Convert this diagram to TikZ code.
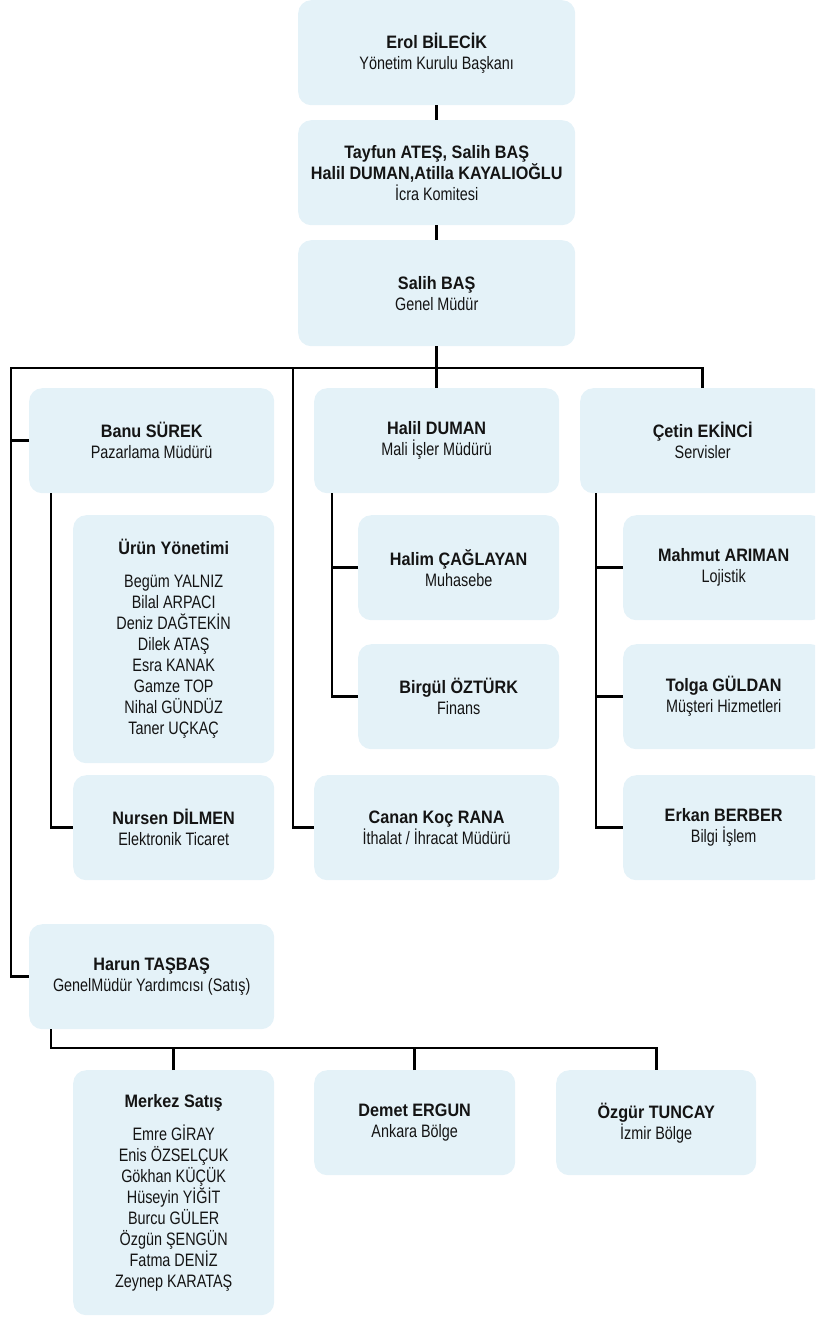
\documentclass[tikz,border=0pt]{standalone}
\usepackage{fontspec}
\setmainfont[FakeStretch=0.8,BoldFeatures={FakeStretch=0.9}]{Liberation Sans}
\usetikzlibrary{calc}
\definecolor{boxfill}{RGB}{228,242,248}
\definecolor{txt}{RGB}{20,20,20}
\tikzset{
  box/.style={rounded corners=13pt, fill=boxfill, draw=none, align=center,
    font=\fontsize{18}{21}\selectfont, inner sep=0pt, text=txt, anchor=north west},
  sz/.style 2 args={minimum width=#1, minimum height=#2},
  conn/.style={draw=black, line width=2.8pt}
}
\begin{document}
\begin{tikzpicture}[x=1pt,y=-1pt]
\useasboundingbox (0,0) rectangle (815,1318);
\clip (0,0) rectangle (815,1318);
% top chain
\node[box, sz={277}{105}] (erol) at (298,0) {\textbf{Erol BİLECİK}\\Yönetim Kurulu Başkanı};
\node[box, sz={277}{105}] (icra) at (298,120) {\textbf{Tayfun ATEŞ, Salih BAŞ}\\\textbf{Halil DUMAN,Atilla KAYALIOĞLU}\\İcra Komitesi};
\node[box, sz={277}{106}] (salih) at (298,240) {\textbf{Salih BAŞ}\\Genel Müdür};
% row 2
\node[box, sz={245}{105}] (banu) at (29,388) {\textbf{Banu SÜREK}\\Pazarlama Müdürü};
\node[box, sz={245}{105}] (halil) at (314,388) {\textbf{Halil DUMAN}\\Mali İşler Müdürü};
\node[box, sz={245}{105}] (cetin) at (580,388) {\textbf{Çetin EKİNCİ}\\Servisler};
% Banu children
\node[box, sz={201}{248}] (urun) at (73,515) {\textbf{Ürün Yönetimi}\\[12pt]Begüm YALNIZ\\Bilal ARPACI\\Deniz DAĞTEKİN\\Dilek ATAŞ\\Esra KANAK\\Gamze TOP\\Nihal GÜNDÜZ\\Taner UÇKAÇ};
\node[box, sz={201}{105}] (nursen) at (73,775) {\textbf{Nursen DİLMEN}\\Elektronik Ticaret};
% Halil children
\node[box, sz={201}{105}] (halim) at (358,515) {\textbf{Halim ÇAĞLAYAN}\\Muhasebe};
\node[box, sz={201}{105}] (birgul) at (358,644) {\textbf{Birgül ÖZTÜRK}\\Finans};
\node[box, sz={245}{105}] (canan) at (314,775) {\textbf{Canan Koç RANA}\\İthalat / İhracat Müdürü};
% Cetin children
\node[box, sz={201}{105}] (mahmut) at (623,515) {\textbf{Mahmut ARIMAN}\\Lojistik};
\node[box, sz={201}{105}] (tolga) at (623,644) {\textbf{Tolga GÜLDAN}\\Müşteri Hizmetleri};
\node[box, sz={201}{105}] (erkan) at (623,775) {\textbf{Erkan BERBER}\\Bilgi İşlem};
% Harun
\node[box, sz={245}{105}] (harun) at (29,924) {\textbf{Harun TAŞBAŞ}\\GenelMüdür Yardımcısı (Satış)};
\node[box, sz={201}{245}] (merkez) at (73,1070) {\textbf{Merkez Satış}\\[12pt]Emre GİRAY\\Enis ÖZSELÇUK\\Gökhan KÜÇÜK\\Hüseyin YİĞİT\\Burcu GÜLER\\Özgün ŞENGÜN\\Fatma DENİZ\\Zeynep KARATAŞ};
\node[box, sz={201}{105}] (demet) at (314,1070) {\textbf{Demet ERGUN}\\Ankara Bölge};
\node[box, sz={200}{105}] (ozgur) at (556,1070) {\textbf{Özgür TUNCAY}\\İzmir Bölge};
% coordinates
\coordinate (busl) at (11,368);
\coordinate (bus2) at (293,368);
\coordinate (bl) at (51,493);
\coordinate (hl) at (332,493);
\coordinate (cl) at (596,493);
\coordinate (hb) at (51,1029);
\coordinate (hbus) at (51,1048);
% connectors
\draw[conn] (erol.south) -- (icra.north);
\draw[conn] (icra.south) -- (salih.north);
\draw[conn] (salih.south) -- (halil.north);
\draw[conn] (cetin.north) |- (busl) |- (harun.west);
\draw[conn] (banu.west) -- (banu.west -| busl);
\draw[conn] (bus2) |- (canan.west);
\draw[conn] (bl) |- (nursen.west);
\draw[conn] ($(urun.north west)+(0,52)$) -- ($(urun.north west)+(0,52)$ -| bl);
\draw[conn] (hl) |- (birgul.west);
\draw[conn] (halim.west) -- (halim.west -| hl);
\draw[conn] (cl) |- (erkan.west);
\draw[conn] (mahmut.west) -- (mahmut.west -| cl);
\draw[conn] (tolga.west) -- (tolga.west -| cl);
\draw[conn] (hb) -- (hbus) -| (ozgur.north);
\draw[conn] (merkez.north) -- (merkez.north |- hbus);
\draw[conn] (demet.north) -- (demet.north |- hbus);
\end{tikzpicture}
\end{document}
